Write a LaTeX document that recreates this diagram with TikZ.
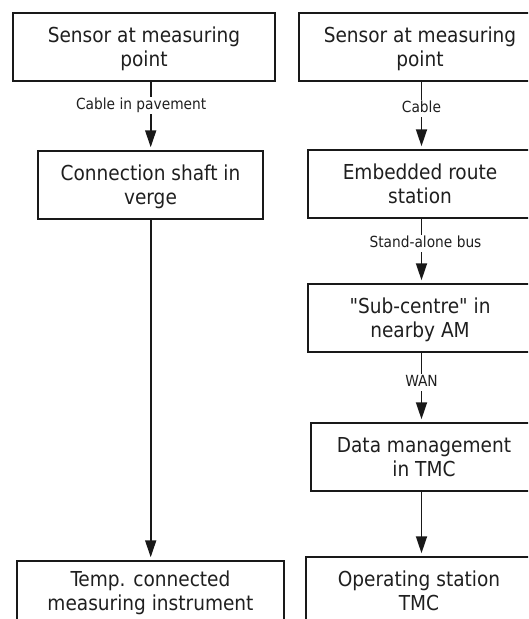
\documentclass[tikz,border=0pt]{standalone}
\usepackage{fontspec}
% plain family: no TeX ligature mapping, so " stays a straight quote
\newfontfamily\diagfont{DejaVu Sans Condensed}
\usetikzlibrary{arrows.meta}

\newcommand{\boxfont}{\diagfont\fontsize{20.6pt}{24pt}\selectfont}
\newcommand{\labfont}{\diagfont\fontsize{15.3pt}{18pt}\selectfont}

\begin{document}
\begin{tikzpicture}[x=1pt, y=-1pt,
  stagebox/.style={draw=black!90, line width=1.5pt, inner sep=0pt,
    align=center, font=\boxfont, text=black!88, text depth=0pt,
    minimum height=68pt},
  flow/.style={draw=black!90, line width=1.8pt, shorten >=3pt,
    -{Triangle[length=17pt, width=11pt]}},
  lab/.style={fill=white, inner xsep=1pt, inner ysep=1pt, font=\labfont,
    text=black!88, text height=11.5pt, text depth=3.5pt}
]
\useasboundingbox (0,0) rectangle (528,619);
\clip (0,0) rectangle (528,619);

% arrow columns
\coordinate (lc) at (150.7,0);
\coordinate (rc) at (421.5,0);

% left chain
\node[stagebox, minimum width=262pt] (l1) at (144,47)
  {Sensor at measuring\\point};
\node[stagebox, minimum width=225pt] (l2) at (150.5,185)
  {Connection shaft in\\verge};
\node[stagebox, minimum width=267pt, minimum height=60pt] (l3) at (150.5,591)
  {Temp. connected\\measuring instrument};

% right chain (right edges run past the page)
\node[stagebox, minimum width=242pt] (r1) at (420,47)
  {Sensor at measuring\\point};
\node[stagebox, minimum width=224pt] (r2) at (420,184)
  {Embedded route\\station};
\node[stagebox, minimum width=224pt] (r3) at (420,318)
  {"Sub-centre" in\\nearby AM};
\node[stagebox, minimum width=226pt] (r4) at (424,457)
  {Data management\\in TMC};
\node[stagebox, minimum width=226pt] (r5) at (419,591)
  {Operating station\\TMC};

% connectors
\draw[flow] (l1.south -| lc) -- node[lab, pos=0.34, xshift=-9.5pt] {Cable in pavement} (l2.north -| lc);
\draw[flow] (l2.south -| lc) -- (l3.north -| lc);

\draw[flow] (r1.south -| rc) -- node[lab, pos=0.40] {Cable} (r2.north -| rc);
\draw[flow] (r2.south -| rc) -- node[lab, pos=0.38, xshift=4pt] {Stand-alone bus} (r3.north -| rc);
\draw[flow] (r3.south -| rc) -- node[lab, pos=0.43] {WAN} (r4.north -| rc);
\draw[flow] (r4.south -| rc) -- (r5.north -| rc);
\end{tikzpicture}
\end{document}
